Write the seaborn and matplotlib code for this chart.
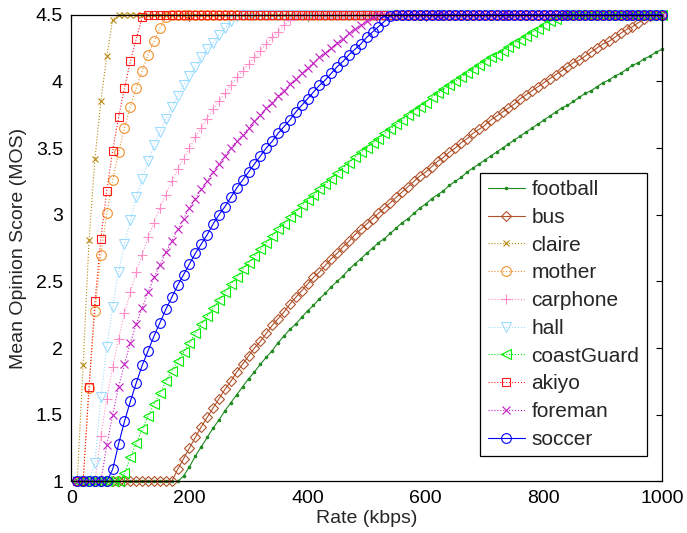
import numpy as np
import pandas as pd
import matplotlib
matplotlib.use("Agg")
import matplotlib.pyplot as plt
import seaborn as sns

# ---------------- data ----------------
rates = np.arange(10, 1001, 10)  # kbps

football = [1.0] * 18 + [
    1.04, 1.11, 1.19, 1.26, 1.33, 1.40, 1.46, 1.53, 1.59, 1.65,
    1.71, 1.77, 1.82, 1.88, 1.93, 1.98, 2.04, 2.09, 2.14, 2.18,
    2.23, 2.28, 2.32, 2.37, 2.41, 2.46, 2.50, 2.54, 2.59, 2.63,
    2.67, 2.71, 2.75, 2.79, 2.82, 2.86, 2.90, 2.94, 2.97, 3.01,
    3.05, 3.08, 3.12, 3.15, 3.18, 3.22, 3.25, 3.28, 3.32, 3.35,
    3.38, 3.41, 3.44, 3.47, 3.50, 3.53, 3.56, 3.59, 3.62, 3.65,
    3.68, 3.71, 3.74, 3.77, 3.80, 3.82, 3.85, 3.88, 3.91, 3.93,
    3.96, 3.99, 4.01, 4.04, 4.06, 4.09, 4.12, 4.14, 4.17, 4.19,
    4.22, 4.24]

bus = [1.0] * 17 + [
    1.09, 1.17, 1.25, 1.33, 1.41, 1.48, 1.55, 1.62, 1.69, 1.75,
    1.82, 1.88, 1.94, 2.00, 2.05, 2.11, 2.17, 2.22, 2.27, 2.33,
    2.38, 2.43, 2.48, 2.53, 2.57, 2.62, 2.67, 2.71, 2.76, 2.80,
    2.85, 2.89, 2.93, 2.97, 3.01, 3.05, 3.09, 3.13, 3.17, 3.21,
    3.25, 3.29, 3.32, 3.36, 3.40, 3.43, 3.47, 3.50, 3.54, 3.57,
    3.61, 3.64, 3.67, 3.71, 3.74, 3.77, 3.80, 3.83, 3.87, 3.90,
    3.93, 3.96, 3.99, 4.02, 4.05, 4.08, 4.11, 4.14, 4.16, 4.19,
    4.22, 4.25, 4.28, 4.30, 4.33, 4.36, 4.39, 4.41, 4.44, 4.47,
    4.49] + [4.5] * 2

claire = [1.0, 1.87, 2.81, 3.42, 3.85, 4.19, 4.46] + [4.5] * 93

mother = [1.0] * 2 + [
    1.70, 2.28, 2.70, 3.01, 3.26, 3.47, 3.65, 3.81, 3.95, 4.08,
    4.20, 4.30, 4.40, 4.48] + [4.5] * 84

carphone = [1.0] * 4 + [
    1.34, 1.62, 1.86, 2.07, 2.26, 2.42, 2.57, 2.70, 2.83, 2.94,
    3.05, 3.15, 3.25, 3.34, 3.42, 3.50, 3.58, 3.65, 3.72, 3.79,
    3.85, 3.91, 3.97, 4.03, 4.08, 4.13, 4.18, 4.23, 4.28, 4.33,
    4.37, 4.42, 4.46] + [4.5] * 63

hall = [1.0] * 3 + [
    1.14, 1.63, 2.01, 2.31, 2.57, 2.78, 2.96, 3.13, 3.27, 3.40,
    3.52, 3.62, 3.72, 3.81, 3.89, 3.97, 4.04, 4.11, 4.18, 4.24,
    4.29, 4.35, 4.40, 4.45, 4.49] + [4.5] * 72

coastGuard = [1.0] * 8 + [
    1.06, 1.18, 1.29, 1.39, 1.49, 1.58, 1.66, 1.75, 1.83, 1.90,
    1.97, 2.04, 2.11, 2.18, 2.24, 2.30, 2.36, 2.42, 2.48, 2.53,
    2.59, 2.64, 2.69, 2.74, 2.79, 2.84, 2.89, 2.93, 2.98, 3.02,
    3.07, 3.11, 3.15, 3.19, 3.23, 3.27, 3.31, 3.35, 3.39, 3.43,
    3.47, 3.50, 3.54, 3.57, 3.61, 3.64, 3.68, 3.71, 3.75, 3.78,
    3.81, 3.84, 3.88, 3.91, 3.94, 3.97, 4.00, 4.03, 4.06, 4.09,
    4.12, 4.15, 4.18, 4.20, 4.23, 4.26, 4.29, 4.31, 4.34, 4.37,
    4.39, 4.42, 4.45, 4.47] + [4.5] * 18

akiyo = [1.0] * 2 + [
    1.71, 2.35, 2.82, 3.18, 3.48, 3.73, 3.95, 4.15, 4.32, 4.48] + [4.5] * 88

foreman = [1.0] * 5 + [
    1.27, 1.50, 1.71, 1.88, 2.04, 2.18, 2.30, 2.42, 2.53, 2.62,
    2.72, 2.80, 2.89, 2.97, 3.05, 3.12, 3.19, 3.25, 3.32, 3.38,
    3.44, 3.50, 3.55, 3.60, 3.65, 3.70, 3.75, 3.80, 3.84, 3.89,
    3.93, 3.98, 4.02, 4.06, 4.10, 4.14, 4.18, 4.21, 4.25, 4.29,
    4.32, 4.36, 4.39, 4.42, 4.45, 4.48] + [4.5] * 49

soccer = [1.0] * 6 + [
    1.09, 1.28, 1.45, 1.60, 1.74, 1.87, 1.98, 2.09, 2.19, 2.29,
    2.38, 2.47, 2.55, 2.63, 2.71, 2.78, 2.85, 2.93, 3.00, 3.06,
    3.13, 3.20, 3.26, 3.32, 3.38, 3.44, 3.50, 3.55, 3.61, 3.66,
    3.71, 3.77, 3.82, 3.87, 3.92, 3.97, 4.01, 4.06, 4.11, 4.15,
    4.20, 4.24, 4.28, 4.33, 4.37, 4.41, 4.45, 4.49] + [4.5] * 46

series_names = ["football", "bus", "claire", "mother", "carphone",
                "hall", "coastGuard", "akiyo", "foreman", "soccer"]
series_values = [football, bus, claire, mother, carphone,
                 hall, coastGuard, akiyo, foreman, soccer]

x_ticks = [0, 200, 400, 600, 800, 1000]
y_ticks = [1, 1.5, 2, 2.5, 3, 3.5, 4, 4.5]
x_label = "Rate (kbps)"
y_label = "Mean Opinion Score (MOS)"

# ---------------- styles ----------------
styles = {
    "football":   dict(color="#1f8a1f", marker=".", ms=3.5, ls="-",  mfc="#1f8a1f"),
    "bus":        dict(color="#b0522a", marker="D", ms=5.0, ls="-",  mfc="none"),
    "claire":     dict(color="#b8860b", marker="x", ms=4.2, ls=":",  mfc="none"),
    "mother":     dict(color="#f0902c", marker="o", ms=7.0, ls=":",  mfc="none"),
    "carphone":   dict(color="#ff8cc6", marker="+", ms=7.0, ls=":",  mfc="none"),
    "hall":       dict(color="#9cdcff", marker="v", ms=7.5, ls=":",  mfc="none"),
    "coastGuard": dict(color="#00ee00", marker="<", ms=7.0, ls=":",  mfc="none"),
    "akiyo":      dict(color="#ff1c1c", marker="s", ms=5.4, ls=":",  mfc="none"),
    "foreman":    dict(color="#c21cc2", marker="x", ms=5.2, ls=":",  mfc="none"),
    "soccer":     dict(color="#0000ff", marker="o", ms=7.0, ls="-",  mfc="none"),
}

sns.set_style("white")
plt.rcParams["font.family"] = ["Liberation Sans", "DejaVu Sans"]

fig = plt.figure(figsize=(6.87, 5.33), dpi=100)
ax = fig.add_axes([0.1038, 0.0968, 0.8598, 0.8756])

for name, vals in zip(series_names, series_values):
    st = styles[name]
    df = pd.DataFrame({"rate": rates, "mos": vals})
    sns.lineplot(data=df, x="rate", y="mos", ax=ax, estimator=None,
                 errorbar=None, sort=False, label=name,
                 color=st["color"], linestyle=st["ls"], linewidth=0.8,
                 marker=st["marker"], markersize=st["ms"],
                 markerfacecolor=st["mfc"], markeredgecolor=st["color"],
                 markeredgewidth=0.8, clip_on=False)

ax.set_xlim(0, 1000)
ax.set_ylim(1, 4.5)
ax.set_xticks(x_ticks)
ax.set_yticks(y_ticks)
ax.set_xticklabels([str(t) for t in x_ticks])
ax.set_yticklabels([("%g" % t) for t in y_ticks])
ax.set_xlabel(x_label, fontsize=14, labelpad=2)
ax.set_ylabel(y_label, fontsize=14, labelpad=6)
ax.tick_params(axis="both", which="both", direction="in", length=4.5,
               width=0.8, top=True, right=True, labelsize=14, pad=6,
               colors="black")
for sp in ax.spines.values():
    sp.set_visible(True)
    sp.set_color("black")
    sp.set_linewidth(0.9)

leg = ax.legend(loc="lower right", bbox_to_anchor=(0.974, 0.054),
                borderaxespad=0, fancybox=False, framealpha=1,
                edgecolor="black", fontsize=15, handlelength=1.8,
                labelspacing=0.42, handletextpad=0.3, borderpad=0.35)
leg.get_frame().set_linewidth(0.9)

fig.savefig("out.png", dpi=100)
